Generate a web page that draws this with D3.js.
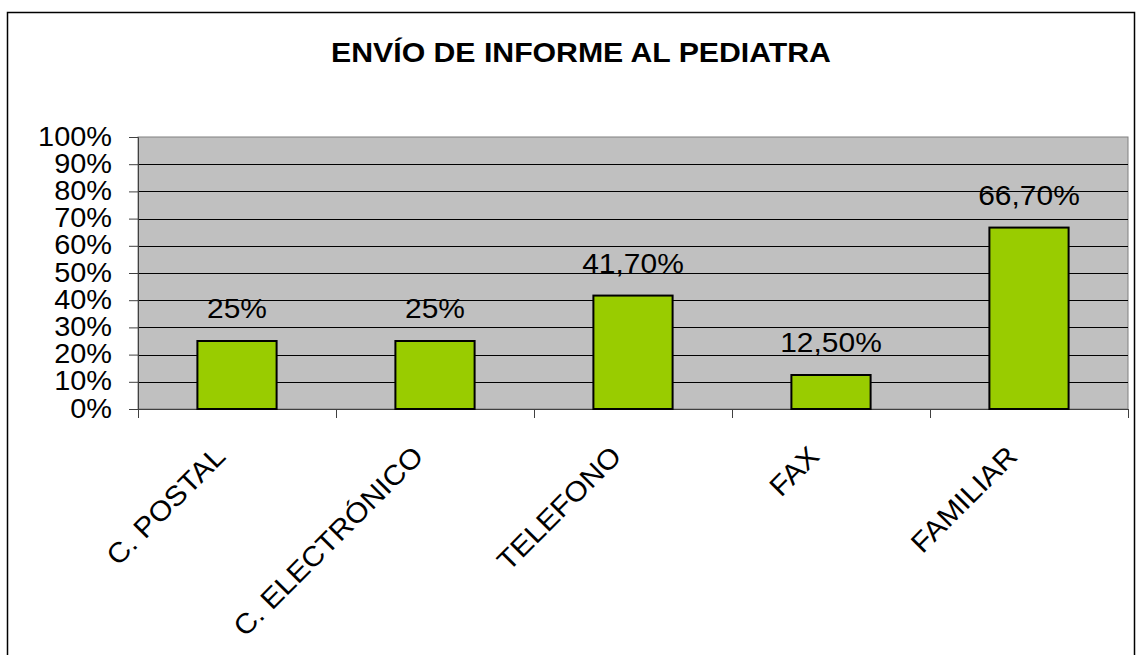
<!DOCTYPE html>
<html>
<head>
<meta charset="utf-8">
<script src="https://cdn.jsdelivr.net/npm/d3@7"></script>
<style>
  body { margin: 0; background: #fff; }
  svg { display: block; }
  text { font-family: Arial, "Liberation Sans", sans-serif; }
</style>
</head>
<body>
<div id="vis"></div>
<script>
// chart data
const categories = ["C. POSTAL", "C. ELECTRÓNICO", "TELEFONO", "FAX", "FAMILIAR"];
const values = [25, 25, 41.7, 12.5, 66.7];
const valueLabels = ["25%", "25%", "41,70%", "12,50%", "66,70%"];
const yTicks = [0, 10, 20, 30, 40, 50, 60, 70, 80, 90, 100];
const title = "ENVÍO DE INFORME AL PEDIATRA";

const W = 1137, H = 655;
const plot = { left: 138, right: 1128, top: 137, bottom: 409 };
const stretch = "scale(1.07,1)"; // the original text is a bit wider than Arial

const svg = d3.select("#vis").append("svg")
    .attr("width", W)
    .attr("height", H);

// outer chart frame
svg.append("rect")
    .attr("x", 7.5).attr("y", 12.5)
    .attr("width", 1127).attr("height", 700)
    .attr("fill", "#fff")
    .attr("stroke", "#000")
    .attr("stroke-width", 1.5);

svg.append("text")
    .attr("transform", "translate(581,62) scale(1.08,1)")
    .attr("text-anchor", "middle")
    .style("font-size", "28px")
    .style("font-weight", "bold")
    .text(title);

const x = d3.scaleBand()
    .domain(categories)
    .range([plot.left, plot.right])
    .paddingInner(0.6)
    .paddingOuter(0.3);

const y = d3.scaleLinear()
    .domain([0, 100])
    .range([plot.bottom, plot.top]);

// plot background
svg.append("rect")
    .attr("x", plot.left).attr("y", plot.top)
    .attr("width", plot.right - plot.left)
    .attr("height", plot.bottom - plot.top)
    .attr("fill", "#c0c0c0")
    .attr("stroke", "#808080")
    .attr("stroke-width", 1);

// gridlines
svg.append("g")
  .selectAll("line")
  .data(yTicks.filter(d => d > 0 && d < 100))
  .join("line")
    .attr("x1", plot.left).attr("x2", plot.right)
    .attr("y1", d => Math.round(y(d)) + 0.5)
    .attr("y2", d => Math.round(y(d)) + 0.5)
    .attr("stroke", "#000")
    .attr("stroke-width", 1);

// y axis
const yAxis = svg.append("g")
    .attr("transform", `translate(${plot.left},0)`)
    .call(d3.axisLeft(y).tickValues(yTicks).tickSize(9)
      .tickFormat(d => d + "%"));
yAxis.select(".domain").attr("stroke", "#404040");
yAxis.selectAll(".tick line").attr("stroke", "#404040");
yAxis.selectAll(".tick text")
    .attr("x", 0)
    .attr("transform", "translate(-26,0) " + stretch)
    .style("font-size", "27px")
    .style("font-family", "Arial, 'Liberation Sans', sans-serif")
    .attr("fill", "#000")
    .attr("dy", "0.3em");

// x axis baseline and category separators
svg.append("line")
    .attr("x1", plot.left).attr("x2", plot.right)
    .attr("y1", plot.bottom + 0.5).attr("y2", plot.bottom + 0.5)
    .attr("stroke", "#404040");
const step = x.step();
svg.append("g")
  .selectAll("line")
  .data(d3.range(categories.length + 1))
  .join("line")
    .attr("x1", i => Math.round(plot.left + i * step) + 0.5)
    .attr("x2", i => Math.round(plot.left + i * step) + 0.5)
    .attr("y1", plot.bottom).attr("y2", plot.bottom + 9)
    .attr("stroke", "#404040");

// bars
svg.append("g")
  .selectAll("rect")
  .data(values)
  .join("rect")
    .attr("x", (d, i) => x(categories[i]))
    .attr("y", d => y(d))
    .attr("width", x.bandwidth())
    .attr("height", d => y(0) - y(d))
    .attr("fill", "#99cc00")
    .attr("stroke", "#000")
    .attr("stroke-width", 2);

// value labels
svg.append("g")
  .selectAll("text")
  .data(values)
  .join("text")
    .attr("transform", (d, i) =>
      `translate(${x(categories[i]) + x.bandwidth() / 2},${y(d) - 23}) ${stretch}`)
    .attr("text-anchor", "middle")
    .style("font-size", "28px")
    .text((d, i) => valueLabels[i]);

// rotated category labels
svg.append("g")
  .selectAll("text")
  .data(categories)
  .join("text")
    .attr("transform", d => {
      const cx = x(d) + x.bandwidth() / 2 - 10;
      return `translate(${cx},${plot.bottom + 49}) rotate(-45) ${stretch}`;
    })
    .attr("text-anchor", "end")
    .style("font-size", "28px")
    .text(d => d);
</script>
</body>
</html>
